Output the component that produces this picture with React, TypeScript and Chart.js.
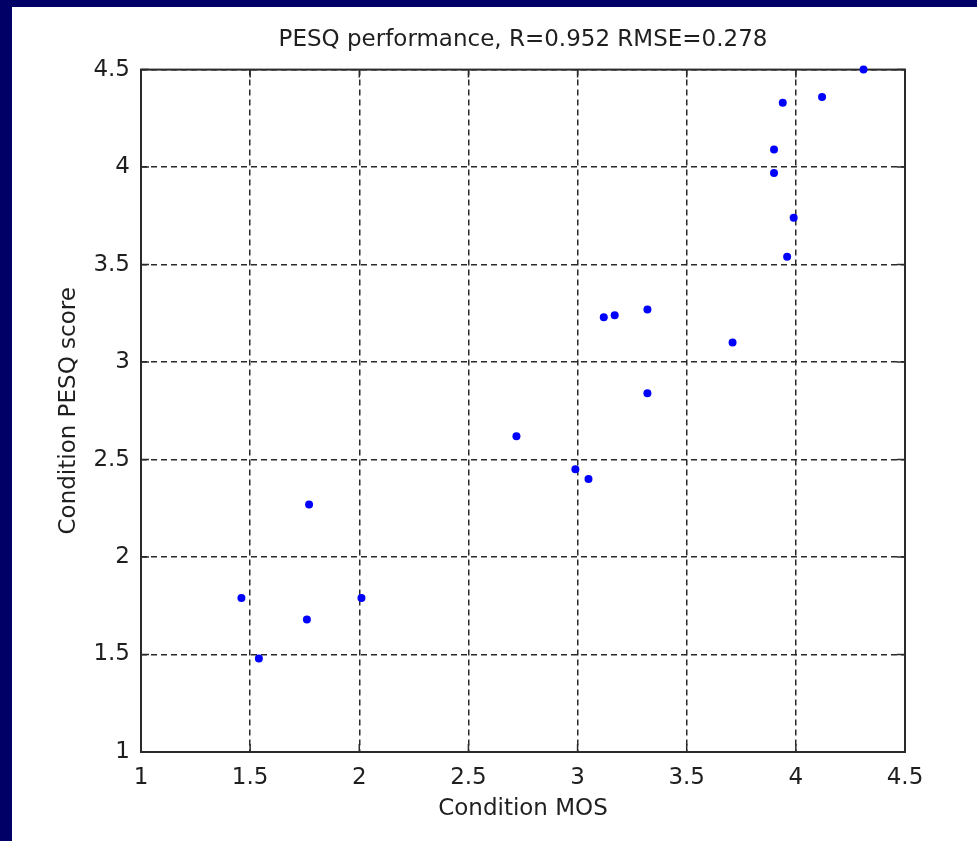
import React, { useEffect, useRef } from 'react';
import { Chart, registerables } from 'chart.js';

Chart.register(...registerables);

const mosValues = [1.46, 1.54, 1.77, 1.76, 2.01, 2.72, 2.99, 3.05, 3.12, 3.17, 3.32, 3.32, 3.71, 3.9, 3.9, 3.94, 3.96, 3.99, 4.12, 4.31];
const pesqValues = [1.79, 1.48, 2.27, 1.68, 1.79, 2.62, 2.45, 2.4, 3.23, 3.24, 3.27, 2.84, 3.1, 4.09, 3.97, 4.33, 3.54, 3.74, 4.36, 4.5];
const xTicks = [1, 1.5, 2, 2.5, 3, 3.5, 4, 4.5];
const xTickLabels = ['1', '1.5', '2', '2.5', '3', '3.5', '4', '4.5'];
const yTicks = [1, 1.5, 2, 2.5, 3, 3.5, 4, 4.5];
const yTickLabels = ['1', '1.5', '2', '2.5', '3', '3.5', '4', '4.5'];
const titleText = 'PESQ performance, R=0.952 RMSE=0.278';
const xTitle = 'Condition MOS';
const yTitle = 'Condition PESQ score';

const FONT = 'DejaVu Sans';
const TEXT = '#1f1f1f';
const LINE = '#2a2a2a';

const boxPlugin = {
  id: 'matlabBox',
  beforeDatasetsDraw(chart: any) {
    const { ctx, chartArea, scales } = chart;
    const { left, right, top, bottom } = chartArea;
    const x = scales.x;
    const y = scales.y;
    const tl = 8;
    ctx.save();
    ctx.setLineDash([]);
    ctx.strokeStyle = LINE;
    ctx.lineWidth = 1.5;
    ctx.beginPath();
    x.ticks.forEach((t: any) => {
      const px = x.getPixelForValue(t.value);
      ctx.moveTo(px, bottom);
      ctx.lineTo(px, bottom - tl);
      ctx.moveTo(px, top);
      ctx.lineTo(px, top + tl);
    });
    y.ticks.forEach((t: any) => {
      const py = y.getPixelForValue(t.value);
      ctx.moveTo(left, py);
      ctx.lineTo(left + tl, py);
      ctx.moveTo(right, py);
      ctx.lineTo(right - tl, py);
    });
    ctx.stroke();
    ctx.lineWidth = 2;
    ctx.strokeRect(left, top, right - left, bottom - top);
    ctx.restore();
  },
};

export default function App() {
  const ref = useRef<HTMLCanvasElement | null>(null);

  useEffect(() => {
    if (!ref.current) return;
    const chart = new Chart(ref.current, {
      type: 'scatter',
      data: {
        datasets: [
          {
            data: mosValues.map((v, i) => ({ x: v, y: pesqValues[i] })),
            backgroundColor: '#0000ff',
            borderColor: '#0000ff',
            pointRadius: 4,
            pointBorderWidth: 0,
            clip: false as any,
          },
        ],
      },
      options: {
        animation: false,
        responsive: false,
        devicePixelRatio: 1,
        layout: { padding: { left: 0, right: 72, top: 0, bottom: 0 } },
        plugins: {
          legend: { display: false },
          tooltip: { enabled: false },
          title: {
            display: true,
            fullSize: false,
            text: titleText,
            color: TEXT,
            font: { family: FONT, size: 23, weight: 'normal' },
            padding: { top: 19, bottom: 16 },
          },
        },
        scales: {
          x: {
            type: 'linear',
            min: 1,
            max: 4.5,
            afterBuildTicks: (s: any) => {
              s.ticks = xTicks.map((v) => ({ value: v }));
            },
            afterFit: (s: any) => {
              s.height = 89;
            },
            ticks: {
              callback: (_v: any, i: number) => xTickLabels[i],
              color: TEXT,
              font: { family: FONT, size: 23 },
              padding: 12,
              maxRotation: 0,
              autoSkip: false,
            },
            grid: { color: LINE, lineWidth: 1.5, drawTicks: false },
            border: { display: false, dash: [6, 4] },
            title: {
              display: true,
              text: xTitle,
              color: TEXT,
              font: { family: FONT, size: 23 },
              padding: { top: 0, bottom: 18 },
            },
          },
          y: {
            type: 'linear',
            min: 1,
            max: 4.5,
            afterBuildTicks: (s: any) => {
              s.ticks = yTicks.map((v) => ({ value: v }));
            },
            afterFit: (s: any) => {
              s.width = 129;
            },
            ticks: {
              callback: (_v: any, i: number) => yTickLabels[i],
              color: TEXT,
              font: { family: FONT, size: 23 },
              padding: 11,
              autoSkip: false,
            },
            grid: { color: LINE, lineWidth: 1.5, drawTicks: false },
            border: { display: false, dash: [6, 4] },
            title: {
              display: true,
              text: yTitle,
              color: TEXT,
              font: { family: FONT, size: 23 },
              padding: { top: 43, bottom: 0 },
            },
          },
        },
      },
      plugins: [boxPlugin],
    } as any);
    return () => chart.destroy();
  }, []);

  return (
    <div
      style={{
        position: 'fixed',
        left: 0,
        top: 0,
        width: 977,
        height: 841,
        background: '#000066',
        overflow: 'hidden',
      }}
    >
      <canvas
        ref={ref}
        width={965}
        height={834}
        style={{ position: 'absolute', left: 12, top: 7, width: 965, height: 834, background: '#ffffff' }}
      />
    </div>
  );
}
